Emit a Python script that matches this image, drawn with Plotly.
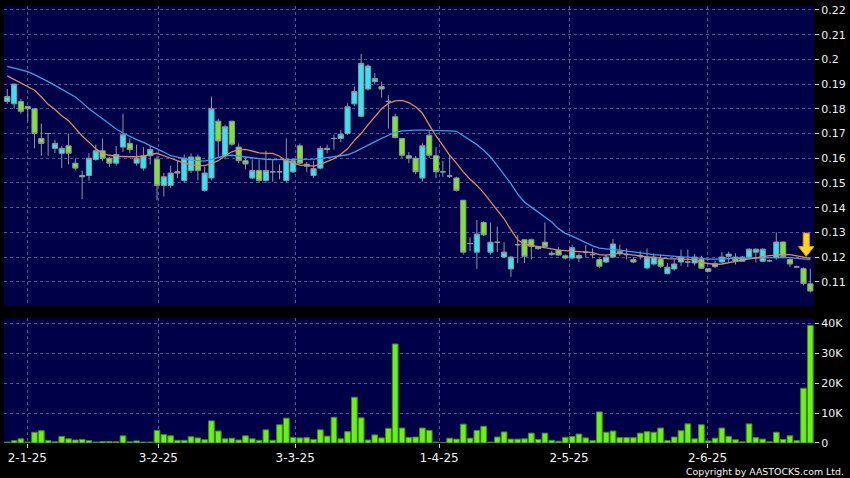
import plotly.graph_objects as go

# ---------------- data ----------------
open_ = [0.183,0.182,0.183,0.181,0.180,0.168,0.170,0.164,0.162,0.165,
         0.158,0.153,0.153,0.1595,0.163,0.160,0.158,0.1645,0.166,0.158,
         0.156,0.161,0.1595,0.149,0.149,0.154,0.151,0.155,0.1605,0.147,
         0.152,0.175,0.161,0.175,0.1645,0.159,0.152,0.155,0.151,0.1545,
         0.1545,0.151,0.1545,0.165,0.1576,0.153,0.156,0.164,0.168,0.168,
         0.170,0.182,0.177,0.188,0.191,0.189,0.183,0.1768,0.168,0.161,
         0.160,0.152,0.1693,0.161,0.1545,0.1528,0.152,0.143,0.1255,0.122,
         0.134,0.122,0.126,0.120,0.1152,0.125,0.127,0.127,0.1234,0.126,
         0.121,0.1228,0.1205,0.1196,0.1196,0.122,0.121,0.119,0.118,0.120,
         0.1223,0.121,0.119,0.1205,0.1156,0.1172,0.1192,0.1133,0.1152,0.118,
         0.118,0.1176,0.119,0.1153,0.1162,0.118,0.1203,0.120,0.1183,0.120,
         0.122,0.1183,0.1185,0.1197,0.1261,0.119,0.116,0.1153,0.1092]

high = [0.188,0.190,0.184,0.181,0.180,0.174,0.170,0.1675,0.165,0.170,
        0.160,0.155,0.162,0.1655,0.168,0.1605,0.165,0.178,0.168,0.1655,
        0.1645,0.165,0.161,0.154,0.157,0.159,0.1615,0.162,0.1615,0.1565,
        0.185,0.176,0.1735,0.175,0.166,0.1605,0.1595,0.1595,0.163,0.1595,
        0.1575,0.168,0.1595,0.166,0.1585,0.159,0.165,0.1655,0.1695,0.1715,
        0.1822,0.189,0.2022,0.198,0.1945,0.191,0.1855,0.178,0.168,0.1625,
        0.161,0.166,0.1713,0.1645,0.159,0.161,0.1525,0.143,0.128,0.135,
        0.1345,0.134,0.1323,0.126,0.1205,0.129,0.127,0.1275,0.1245,0.134,
        0.1225,0.124,0.121,0.125,0.1215,0.1248,0.1235,0.1195,0.121,0.1273,
        0.125,0.1235,0.120,0.1225,0.1235,0.1215,0.121,0.1175,0.119,0.123,
        0.123,0.1213,0.1205,0.1155,0.1185,0.122,0.1222,0.1215,0.1205,0.1235,
        0.1235,0.1235,0.119,0.130,0.1262,0.1195,0.1165,0.1158,0.1153]

low = [0.182,0.180,0.178,0.175,0.164,0.161,0.161,0.162,0.156,0.1575,
       0.155,0.1435,0.151,0.159,0.159,0.1565,0.157,0.1625,0.162,0.157,
       0.155,0.1575,0.143,0.1445,0.148,0.152,0.150,0.154,0.151,0.1465,
       0.151,0.160,0.1595,0.165,0.158,0.1555,0.1515,0.150,0.150,0.1505,
       0.1515,0.150,0.154,0.1575,0.1545,0.152,0.1555,0.162,0.1635,0.1665,
       0.1695,0.181,0.1765,0.1875,0.1898,0.1845,0.172,0.168,0.160,0.158,
       0.1535,0.1505,0.160,0.152,0.1525,0.152,0.1465,0.121,0.1225,0.1152,
       0.1285,0.121,0.122,0.1195,0.112,0.1175,0.1176,0.119,0.123,0.1235,
       0.1205,0.1205,0.119,0.119,0.118,0.1198,0.1195,0.1155,0.1175,0.1195,
       0.1205,0.119,0.1175,0.119,0.115,0.1165,0.1155,0.113,0.1145,0.1165,
       0.116,0.1165,0.1153,0.114,0.1155,0.1175,0.1178,0.117,0.118,0.1195,
       0.1178,0.118,0.118,0.119,0.1195,0.116,0.1155,0.1085,0.1057]

close = [0.185,0.190,0.179,0.180,0.170,0.166,0.170,0.166,0.164,0.162,
         0.156,0.1525,0.160,0.163,0.160,0.158,0.1615,0.1695,0.1635,0.160,
         0.161,0.1635,0.149,0.1525,0.154,0.1545,0.160,0.1605,0.155,0.154,
         0.180,0.167,0.1727,0.1657,0.159,0.1577,0.155,0.151,0.155,0.1545,
         0.1545,0.1595,0.159,0.158,0.1568,0.1558,0.164,0.1636,0.168,0.1697,
         0.1808,0.187,0.1984,0.1973,0.1923,0.188,0.183,0.1684,0.1612,0.160,
         0.1545,0.165,0.1612,0.1545,0.1545,0.1528,0.147,0.122,0.1255,0.1293,
         0.129,0.126,0.126,0.122,0.120,0.125,0.1203,0.1243,0.1243,0.1243,
         0.1216,0.1208,0.1196,0.1238,0.1206,0.122,0.121,0.1163,0.120,0.1253,
         0.1215,0.121,0.118,0.1205,0.120,0.120,0.1163,0.1159,0.1172,0.120,
         0.118,0.120,0.1155,0.1142,0.1173,0.120,0.1212,0.1183,0.120,0.1232,
         0.1232,0.1232,0.1185,0.1261,0.1202,0.1172,0.116,0.1093,0.1063]

volume = [300,800,1400,300,3600,4100,800,400,2200,1400,
          1000,1200,800,300,500,500,400,2400,400,700,
          300,300,4200,2800,2400,900,900,2100,1700,1100,
          7400,4000,1400,1600,1000,2400,1400,900,4400,900,
          6100,8300,1900,1700,1800,1200,4400,2300,8600,1400,
          3800,15300,8400,1000,2700,1700,4900,33100,5000,1900,
          2000,5000,4200,300,200,1600,1300,6300,1600,4200,
          5600,300,2000,3700,1300,1300,1400,3300,1200,3300,
          900,600,1900,2200,3000,1700,800,10400,3600,4000,
          1800,1800,1800,3300,3800,3600,5000,800,2000,4100,
          6400,1400,6100,700,1600,5000,2200,1100,400,6400,
          1800,1300,400,3600,1200,2400,800,18300,39300]

ma10 = [0.1933,0.1918,0.1905,0.189,0.1875,0.1848,0.1818,0.1797,0.1772,0.1752,
        0.1722,0.169,0.1665,0.1638,0.162,0.1612,0.1608,0.1606,0.1606,0.1606,
        0.1608,0.1615,0.162,0.161,0.160,0.159,0.158,0.1574,0.157,0.157,
        0.1578,0.159,0.161,0.1626,0.1635,0.1636,0.163,0.1622,0.162,0.162,
        0.1608,0.159,0.158,0.1572,0.157,0.1568,0.1575,0.1585,0.1598,0.1616,
        0.1638,0.1672,0.170,0.1735,0.1768,0.180,0.1822,0.1832,0.1834,0.1825,
        0.1808,0.1782,0.1735,0.169,0.1652,0.1612,0.158,0.1545,0.1515,0.149,
        0.146,0.1425,0.139,0.1355,0.131,0.127,0.1252,0.1246,0.1242,0.1238,
        0.1232,0.1228,0.1226,0.1224,0.1222,0.1222,0.1218,0.121,0.1208,0.1212,
        0.1215,0.1212,0.121,0.1205,0.1201,0.1198,0.1195,0.1194,0.1193,0.1193,
        0.1192,0.119,0.1178,0.1174,0.117,0.1172,0.1178,0.1183,0.1188,0.1193,
        0.1197,0.1203,0.1206,0.1208,0.1211,0.121,0.1205,0.1198,0.1195]

ma20 = [0.1972,0.1965,0.1958,0.195,0.1938,0.1925,0.191,0.1895,0.188,0.1865,
        0.1848,0.1825,0.180,0.178,0.176,0.1738,0.1718,0.1702,0.1688,0.1675,
        0.1664,0.1652,0.164,0.1625,0.161,0.1603,0.1597,0.1592,0.159,0.1588,
        0.1595,0.1604,0.161,0.1612,0.1608,0.1605,0.1602,0.1598,0.1595,0.1594,
        0.1594,0.1595,0.1595,0.1595,0.1595,0.1596,0.1598,0.1602,0.1607,0.1612,
        0.1614,0.1625,0.1639,0.1655,0.1668,0.168,0.1693,0.1705,0.1711,0.1714,
        0.1714,0.1714,0.1714,0.1713,0.1713,0.1711,0.1709,0.169,0.1672,0.1655,
        0.1632,0.1605,0.157,0.1535,0.1497,0.1455,0.1422,0.1402,0.1382,0.136,
        0.1342,0.1315,0.1296,0.1285,0.1272,0.1258,0.1245,0.1236,0.1232,0.123,
        0.1228,0.1224,0.122,0.1216,0.1212,0.121,0.1208,0.1205,0.1202,0.1201,
        0.12,0.1199,0.1195,0.1192,0.1191,0.1192,0.1194,0.1195,0.1195,0.1195,
        0.1196,0.1197,0.1198,0.1199,0.1199,0.1198,0.1195,0.1192,0.119]

x_tick_pos = [2.94, 22.2, 42.3, 63.45, 82.55, 102.9]
x_tick_text = ["2-1-25", "3-2-25", "3-3-25", "1-4-25", "2-5-25", "2-6-25"]
price_ticks = [0.11, 0.12, 0.13, 0.14, 0.15, 0.16, 0.17, 0.18, 0.19, 0.20, 0.21, 0.22]
price_tick_text = ["0.11", "0.12", "0.13", "0.14", "0.15", "0.16", "0.17",
                   "0.18", "0.19", "0.2", "0.21", "0.22"]
vol_ticks = [0, 10000, 20000, 30000, 40000]
vol_tick_text = ["0", "10K", "20K", "30K", "40K"]

# arrow marker near the latest session
arrow_index = 117.4
arrow_top, arrow_neck, arrow_tip = 0.1297, 0.1243, 0.1203

# ---------------- figure ----------------
idx = list(range(len(close)))
NAVY = "#000048"
GRID = "#55558c"
CYAN = "#2ee6f4"
GREEN = "#7ee42e"
OUTLINE = "#8c9a9c"

fig = go.Figure()
fig.add_trace(go.Candlestick(
    x=idx, open=open_, high=high, low=low, close=close,
    increasing=dict(line=dict(color=OUTLINE, width=1), fillcolor=CYAN),
    decreasing=dict(line=dict(color=OUTLINE, width=1), fillcolor=GREEN),
    whiskerwidth=0, xaxis="x", yaxis="y", showlegend=False, hoverinfo="skip"))
fig.add_trace(go.Scatter(x=idx, y=ma20, mode="lines",
                         line=dict(color="#3a9fe6", width=1.3),
                         xaxis="x", yaxis="y", showlegend=False, hoverinfo="skip"))
fig.add_trace(go.Scatter(x=idx, y=ma10, mode="lines",
                         line=dict(color="#e0895a", width=1.3),
                         xaxis="x", yaxis="y", showlegend=False, hoverinfo="skip"))
fig.add_trace(go.Bar(x=idx, y=volume, width=0.84,
                     marker=dict(color="#6cf01a", line=dict(color="#3d8c12", width=1)),
                     xaxis="x2", yaxis="y2", showlegend=False, hoverinfo="skip"))

a = arrow_index
arrow_path = (f"M{a-0.45},{arrow_top} L{a+0.45},{arrow_top} L{a+0.45},{arrow_neck} "
              f"L{a+1.15},{arrow_neck} L{a},{arrow_tip} L{a-1.15},{arrow_neck} "
              f"L{a-0.45},{arrow_neck} Z")
fig.add_shape(type="path", path=arrow_path, xref="x", yref="y",
              fillcolor="#ffd424", line=dict(color="#d09a00", width=1))

xr = [-0.485, 118.54]
common_x = dict(range=xr, tickvals=x_tick_pos, showgrid=True, gridcolor=GRID,
                griddash="3px,3px", gridwidth=1, zeroline=False, showline=False,
                fixedrange=True)

fig.update_layout(
    width=850, height=478,
    margin=dict(l=4, r=36, t=6, b=35, autoexpand=False),
    paper_bgcolor="#000000", plot_bgcolor=NAVY,
    showlegend=False, bargap=0.15, boxgap=0.24, boxgroupgap=0,
    font=dict(family="DejaVu Sans", color="#f0f0f0", size=11),
    xaxis=dict(domain=[0, 1], anchor="y", showticklabels=False, ticks="",
               rangeslider=dict(visible=False), **common_x),
    xaxis2=dict(domain=[0, 1], anchor="y2", ticktext=x_tick_text, ticks="outside",
                ticklen=4, tickcolor="#cccccc", tickfont=dict(size=12, color="#f4f4f4"),
                **common_x),
    yaxis=dict(domain=[0.3135, 1], range=[0.1002, 0.2216], side="right", anchor="x",
               tickvals=price_ticks, ticktext=price_tick_text, ticks="outside",
               ticklen=4, tickcolor="#cccccc", tickfont=dict(size=11, color="#f0f0f0"),
               showgrid=True, gridcolor=GRID, griddash="3px,3px", zeroline=False,
               fixedrange=True),
    yaxis2=dict(domain=[0, 0.286], range=[0, 41770], side="right", anchor="x2",
                tickvals=vol_ticks, ticktext=vol_tick_text, ticks="outside",
                ticklen=4, tickcolor="#cccccc", tickfont=dict(size=11, color="#f0f0f0"),
                showgrid=True, gridcolor=GRID, griddash="3px,3px", zeroline=False,
                fixedrange=True),
    annotations=[dict(text="Copyright by AASTOCKS.com Ltd.", xref="paper", yref="paper",
                      x=1, y=0, xanchor="right", yanchor="middle", xshift=32, yshift=-28,
                      showarrow=False, font=dict(size=9.4, color="#f4f4f4",
                                                 family="DejaVu Sans"))],
)

fig.write_html("out.html", config={"displayModeBar": False},
               post_script="document.body.style.margin='0';document.body.style.overflow='hidden';")
